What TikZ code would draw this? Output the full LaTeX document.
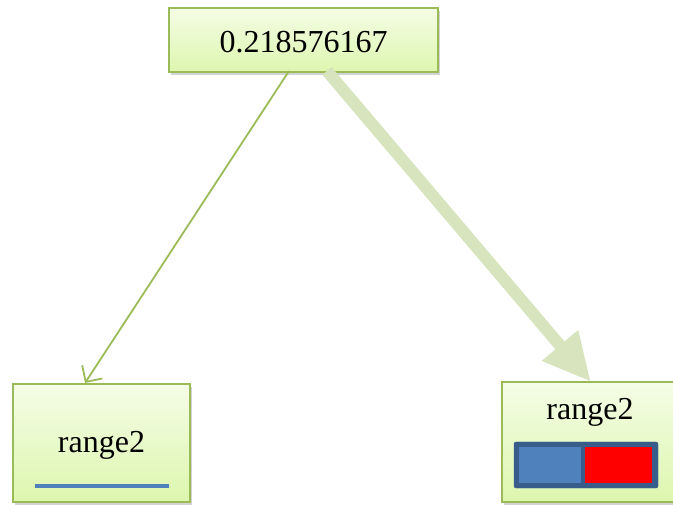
\documentclass[tikz,border=0pt]{standalone}
\usepackage{fontspec}
\setmainfont{Liberation Serif}
\usetikzlibrary{arrows.meta,shadows,calc}
\definecolor{bord}{HTML}{9BBB59}
\definecolor{thick}{HTML}{D7E4BD}
\definecolor{topc}{HTML}{F4FDE6}
\definecolor{botc}{HTML}{DDF6AE}
\definecolor{barblue}{HTML}{4F81BD}
\definecolor{bardark}{HTML}{385D8A}
\tikzset{
  vbox/.style={draw=bord, line width=1.5pt, top color=topc, bottom color=botc,
    drop shadow={shadow xshift=2pt, shadow yshift=-3pt, opacity=0.35},
    inner sep=0pt, font=\fontsize{32}{36}\selectfont},
  thinarrow/.style={draw=bord, line width=1.8pt, -{Straight Barb[length=12pt,width=24pt,line width=1.8pt]}},
  thickarrow/.style={draw=thick, line width=12pt, -{Triangle[length=48pt,width=44pt]}}
}
\begin{document}
\begin{tikzpicture}[x=1pt,y=-1pt]
\useasboundingbox (0,0) rectangle (673,505);
\node[vbox, minimum width=269pt, minimum height=64pt] (top) at (303.5,40) {};
\node[font=\fontsize{32}{36}\selectfont] (toptext) at (303.5,42) {0.218576167};
\node[vbox, minimum width=177pt, minimum height=118pt] (left) at (101.5,443) {};
\node[font=\fontsize{32}{36}\selectfont] (lefttext) at (101.5,445) {range2};
\node[vbox, minimum width=172pt, minimum height=120pt] (right) at (588,442) {};
\node[font=\fontsize{32}{36}\selectfont] (righttext) at (590,412) {range2};
\coordinate (la) at (35,486);
\coordinate (lb) at (169,486);
\draw[barblue, line width=3.5pt] (la) -- (lb);
\node[draw=bardark, fill=bardark, rounded corners=2pt, minimum width=144pt, minimum height=46pt, inner sep=0pt] (bar) at (586,465) {};
\node[fill=barblue, minimum width=62pt, minimum height=36pt, inner sep=0pt] (bl) at (550,465) {};
\node[fill=red, minimum width=67pt, minimum height=36pt, inner sep=0pt] (br) at (618.5,465) {};
\coordinate (a1) at (289,71);
\coordinate (a2) at (85,383);
\coordinate (b1) at (327,71);
\coordinate (b2) at (591,382);
\draw[thickarrow] (b1) -- (b2);
\draw[thinarrow] (a1) -- (a2);
\end{tikzpicture}
\end{document}
